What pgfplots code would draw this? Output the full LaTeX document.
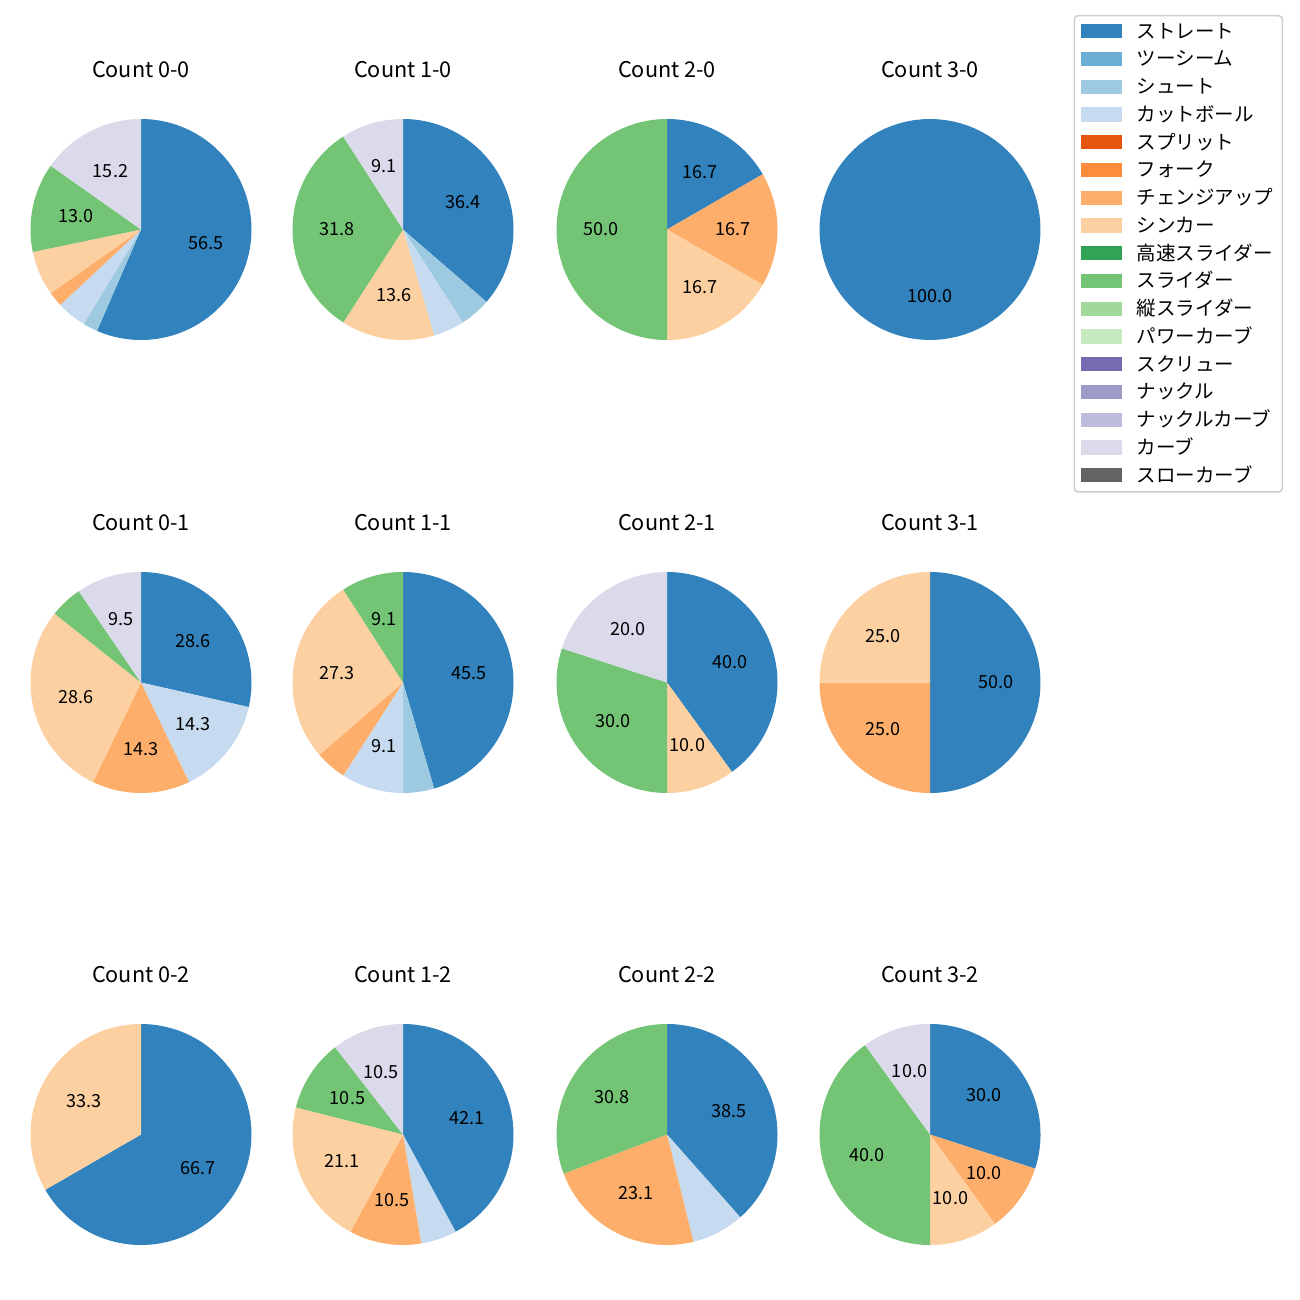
\documentclass[border=0pt]{standalone}
\usepackage{pgfplots}
\pgfplotsset{compat=1.18}
\usepackage{pgfplotstable}
\usepackage{fontspec}
\setmainfont{Noto Sans CJK JP}

\definecolor{c0}{HTML}{3182BD}
\definecolor{c1}{HTML}{6BAED6}
\definecolor{c2}{HTML}{9ECAE1}
\definecolor{c3}{HTML}{C6DBEF}
\definecolor{c4}{HTML}{E6550D}
\definecolor{c5}{HTML}{FD8D3C}
\definecolor{c6}{HTML}{FDAE6B}
\definecolor{c7}{HTML}{FDD0A2}
\definecolor{c8}{HTML}{31A354}
\definecolor{c9}{HTML}{74C476}
\definecolor{c10}{HTML}{A1D99B}
\definecolor{c11}{HTML}{C7E9C0}
\definecolor{c12}{HTML}{756BB1}
\definecolor{c13}{HTML}{9E9AC8}
\definecolor{c14}{HTML}{BCBDDC}
\definecolor{c15}{HTML}{DADAEB}
\definecolor{c16}{HTML}{636363}
\definecolor{lgray}{HTML}{CCCCCC}

% counts per pitch type, colour, printed percentage (0 = not printed)
\pgfplotstableread{
n c lab
26 c0 56.5
1 c2 0
2 c3 0
1 c6 0
3 c7 0
6 c9 13.0
7 c15 15.2
}\tAA
\pgfplotstableread{
n c lab
8 c0 36.4
1 c2 0
1 c3 0
3 c7 13.6
7 c9 31.8
2 c15 9.1
}\tBA
\pgfplotstableread{
n c lab
1 c0 16.7
1 c6 16.7
1 c7 16.7
3 c9 50.0
}\tCA
\pgfplotstableread{
n c lab
1 c0 100.0
}\tDA
\pgfplotstableread{
n c lab
6 c0 28.6
3 c3 14.3
3 c6 14.3
6 c7 28.6
1 c9 0
2 c15 9.5
}\tAB
\pgfplotstableread{
n c lab
10 c0 45.5
1 c2 0
2 c3 9.1
1 c6 0
6 c7 27.3
2 c9 9.1
}\tBB
\pgfplotstableread{
n c lab
4 c0 40.0
1 c7 10.0
3 c9 30.0
2 c15 20.0
}\tCB
\pgfplotstableread{
n c lab
2 c0 50.0
1 c6 25.0
1 c7 25.0
}\tDB
\pgfplotstableread{
n c lab
2 c0 66.7
1 c7 33.3
}\tAC
\pgfplotstableread{
n c lab
8 c0 42.1
1 c3 0
2 c6 10.5
4 c7 21.1
2 c9 10.5
2 c15 10.5
}\tBC
\pgfplotstableread{
n c lab
5 c0 38.5
1 c3 0
3 c6 23.1
4 c9 30.8
}\tCC
\pgfplotstableread{
n c lab
3 c0 30.0
1 c6 10.0
1 c7 10.0
4 c9 40.0
1 c15 10.0
}\tDC

\def\px{0.553846}

\tikzset{pielab/.style={font=\fontsize{10}{12}\selectfont, inner sep=0pt, text=black}}

\pgfplotsset{pieaxis/.style={scale only axis, width=122.4pt, height=122.4pt,
  xmin=-1, xmax=1, ymin=-1, ymax=1, hide axis, clip=false, anchor=center,
  title style={at={(0.5,1)}, anchor=center, yshift=21.5pt,
    font=\fontsize{12}{14}\selectfont, inner sep=0pt}}}

\newcommand\drawpie[1]{%
  \pgfplotstablegetrowsof{#1}%
  \pgfmathtruncatemacro\nlast{\pgfplotsretval-1}%
  \xdef\ptot{0}%
  \foreach \i in {0,...,\nlast}{%
    \pgfplotstablegetelem{\i}{n}\of{#1}%
    \pgfmathsetmacro\tmp{\ptot+\pgfplotsretval}%
    \xdef\ptot{\tmp}%
  }%
  \xdef\pcum{0}%
  \foreach \i in {0,...,\nlast}{%
    \pgfplotstablegetelem{\i}{n}\of{#1}\let\pv\pgfplotsretval
    \pgfplotstablegetelem{\i}{c}\of{#1}\let\pcol\pgfplotsretval
    \pgfplotstablegetelem{\i}{lab}\of{#1}\let\plab\pgfplotsretval
    \pgfmathsetmacro\fa{\pcum/\ptot}%
    \pgfmathsetmacro\fb{(\pcum+\pv)/\ptot}%
    \pgfmathsetmacro\pahi{90-360*\fa}%
    \pgfmathsetmacro\palo{90-360*\fb}%
    \pgfmathsetmacro\pmid{(\pahi+\palo)/2}%
    \pgfmathsetmacro\plx{0.6*cos(\pmid)}%
    \pgfmathsetmacro\ply{0.6*sin(\pmid)}%
    \edef\temp{\noexpand\addplot[fill=\pcol, draw=none, domain=\palo:\pahi, samples=90, variable=\noexpand\myt] ({cos(\noexpand\myt)},{sin(\noexpand\myt)}) -- (axis cs:0,0) -- cycle;}%
    \temp
    \ifdim\plab pt>0pt
      \edef\temp{\noexpand\node[pielab] at (axis cs:\plx,\ply) {\plab};}%
      \temp
    \fi
    \pgfmathsetmacro\tmp{\pcum+\pv}%
    \xdef\pcum{\tmp}%
  }%
}

\newcommand\pie[4]{%
  \begin{axis}[pieaxis, at={({#1*\px pt},{-#2*\px pt})}, title={#3}]
    \drawpie{#4}
  \end{axis}}

\newcommand\legitem[2]{%
  \addlegendimage{legend image code/.code={\fill[#1, sharp corners] (0pt,-3.2pt) rectangle (21.6pt,3.8pt);}}
  \addlegendentry{#2}}

\begin{document}
\begin{tikzpicture}
\path[use as bounding box] (0,0) rectangle ({1300*\px pt},{-1300*\px pt});

\pie{141}{229.5}{Count 0-0}{\tAA}
\pie{403}{229.5}{Count 1-0}{\tBA}
\pie{667}{229.5}{Count 2-0}{\tCA}
\pie{930}{229.5}{Count 3-0}{\tDA}
\pie{141}{682.5}{Count 0-1}{\tAB}
\pie{403}{682.5}{Count 1-1}{\tBB}
\pie{667}{682.5}{Count 2-1}{\tCB}
\pie{930}{682.5}{Count 3-1}{\tDB}
\pie{141}{1134.5}{Count 0-2}{\tAC}
\pie{403}{1134.5}{Count 1-2}{\tBC}
\pie{667}{1134.5}{Count 2-2}{\tCC}
\pie{930}{1134.5}{Count 3-2}{\tDC}

\begin{axis}[hide axis, scale only axis, width=1pt, height=1pt,
  xmin=0, xmax=1, ymin=0, ymax=1, anchor=south west,
  at={({1283*\px pt},{-15*\px pt})},
  legend style={at={(0,0)}, anchor=north east, draw=lgray, fill=white,
    line width=0.8pt, rounded corners=2pt,
    inner xsep=3.9pt, inner ysep=3.4pt, row sep=4.37pt,
    font=\fontsize{10.8}{12}\selectfont,
    nodes={inner xsep=1pt, inner ysep=1pt, text height=8pt, text depth=1pt},
    cells={anchor=west},
    /tikz/every odd column/.append style={column sep=7.4pt}}]
  \legitem{c0}{ストレート}
  \legitem{c1}{ツーシーム}
  \legitem{c2}{シュート}
  \legitem{c3}{カットボール}
  \legitem{c4}{スプリット}
  \legitem{c5}{フォーク}
  \legitem{c6}{チェンジアップ}
  \legitem{c7}{シンカー}
  \legitem{c8}{高速スライダー}
  \legitem{c9}{スライダー}
  \legitem{c10}{縦スライダー}
  \legitem{c11}{パワーカーブ}
  \legitem{c12}{スクリュー}
  \legitem{c13}{ナックル}
  \legitem{c14}{ナックルカーブ}
  \legitem{c15}{カーブ}
  \legitem{c16}{スローカーブ}
\end{axis}
\end{tikzpicture}
\end{document}
